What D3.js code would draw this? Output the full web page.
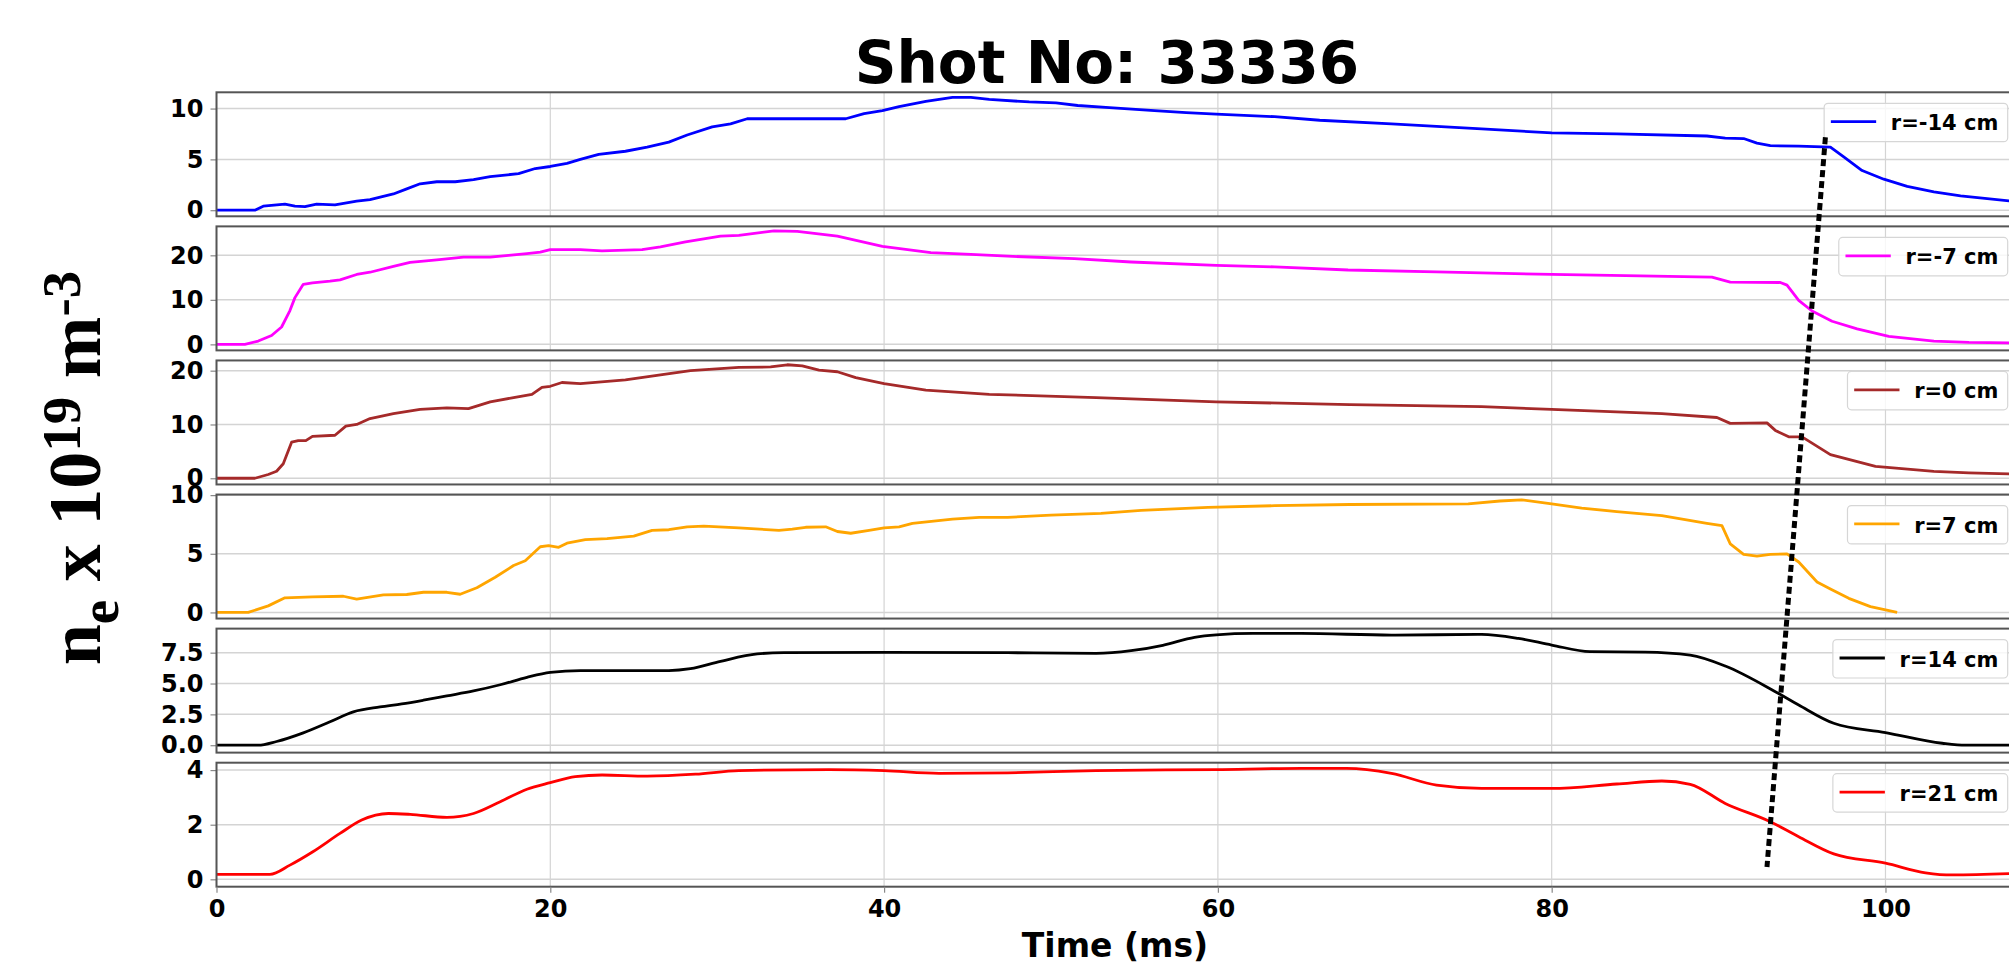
<!DOCTYPE HTML>
<html lang="en">
<head>
<meta charset="utf-8">
<title>Shot No: 33336</title>
<style>
html, body {
    margin: 0;
    padding: 0;
    background: #fff;
 }

svg {
    display: block;
    overflow: hidden;
 }

.tick text {
    font-family: "DejaVu Sans", sans-serif;
    font-weight: bold;
    font-size: 24px;
    fill: #000;
 }

.tick line {
    stroke: #888;
    stroke-width: 1.2;
 }

.grid line {
    stroke: #d4d4d4;
    stroke-width: 1.5;
 }

.frame {
    fill: none;
    stroke: #555;
    stroke-width: 2;
 }

.legend text {
    font-family: "DejaVu Sans", sans-serif;
    font-weight: bold;
    font-size: 21px;
    fill: #000;
 }
</style>
</head>
<body>

<div id="chart"></div>

<script src="https://cdn.jsdelivr.net/npm/d3@7/dist/d3.min.js"></script>
<script>
// ---- data ----
const xTicks = [0, 20, 40, 60, 80, 100];
const xDomain = [0, 108];

const labels = ['r=-14 cm', 'r=-7 cm', 'r=0 cm', 'r=7 cm', 'r=14 cm', 'r=21 cm'];

const yTicks = [
  [0, 5, 10],
  [0, 10, 20],
  [0, 10, 20],
  [0, 5, 10],
  [0, 2.5, 5, 7.5],
  [0, 2, 4]
];
const yDomains = [
  [-0.6, 11.6],
  [-1.35, 26.5],
  [-1.15, 21.9],
  [-0.52, 10.05],
  [-0.6, 9.45],
  [-0.27, 4.27]
];

// r = -14 cm
const tM14 = [0, 2.3, 2.8, 4.1, 4.7, 5.3, 6.0, 7.1, 8.4, 9.2,
  10.6, 11.4, 12.2, 13.2, 14.3, 15.4, 16.4, 18.1, 19.1, 20,
  21, 21.8, 22.9, 24.5, 25.8, 27.1, 28.2, 29.7, 30.8, 31.8,
  34, 37.7, 38.8, 39.9, 40.9, 42.5, 44.1, 45.2, 46.3, 48.7,
  50.3, 51.6, 53.5, 56.2, 58.1, 59.9, 63.4, 66.1, 70.4, 75.8,
  80, 83.9, 89.3, 90.4, 91.5, 92.3, 93.1, 94.8, 96.7, 97.5,
  98.6, 99.9, 101.3, 102.9, 104.5, 107.5, 108];
const nM14 = [0, 0, 0.4, 0.6, 0.4, 0.35, 0.6, 0.52, 0.9, 1.05,
  1.6, 2.1, 2.6, 2.8, 2.8, 3.0, 3.3, 3.6, 4.1, 4.3,
  4.6, 5.0, 5.5, 5.8, 6.2, 6.7, 7.4, 8.2, 8.5, 9.0,
  9.0, 9.0, 9.5, 9.8, 10.2, 10.7, 11.1, 11.1, 10.9, 10.65,
  10.55, 10.3, 10.1, 9.8, 9.6, 9.45, 9.2, 8.85, 8.5, 8.0,
  7.6, 7.5, 7.3, 7.1, 7.05, 6.6, 6.35, 6.3, 6.2, 5.25,
  3.9, 3.05, 2.35, 1.8, 1.4, 0.9, 0.85];

// r = -7 cm
const tM7 = [0, 1.7, 2.5, 3.3, 3.9, 4.4, 4.7, 5.2, 5.75, 6.8,
  7.4, 8.4, 9.2, 10.6, 11.6, 13.2, 14.8, 16.4, 17.5, 18.6,
  19.4, 20, 21.8, 23.1, 25.5, 26.6, 28.1, 30.2, 31.3, 33.4,
  34.8, 37.2, 39.9, 42.8, 45.2, 47.4, 51.4, 54.8, 59.9, 63.4,
  67.8, 73.1, 80, 85.3, 89.6, 90.7, 93.7, 94.1, 94.8, 95.6,
  96.8, 98.3, 100.2, 102.9, 105, 108];
const nM7 = [0, 0, 0.75, 2.0, 3.9, 7.6, 10.5, 13.5, 13.8, 14.2,
  14.5, 15.7, 16.2, 17.5, 18.4, 19.0, 19.6, 19.6, 20.0, 20.4,
  20.7, 21.3, 21.3, 21.0, 21.3, 21.9, 23.0, 24.3, 24.5, 25.5,
  25.4, 24.3, 22.0, 20.6, 20.2, 19.8, 19.25, 18.5, 17.75, 17.4,
  16.7, 16.3, 15.7, 15.4, 15.1, 14.0, 13.9, 13.3, 9.9, 7.5,
  5.2, 3.5, 1.8, 0.75, 0.45, 0.3];

// r = 0 cm
const t0 = [0, 2.3, 3.1, 3.6, 4.0, 4.5, 4.9, 5.35, 5.75, 7.1,
  7.75, 8.4, 9.2, 10.6, 12.2, 13.8, 15.1, 16.4, 17.8, 18.9,
  19.5, 20, 20.7, 21.8, 24.5, 26.6, 28.4, 31.3, 33.2, 34.2,
  35.1, 36.1, 37.2, 38.3, 40, 42.5, 46.3, 52.7, 59.9, 67.9,
  75.8, 80, 86.6, 89.9, 90.7, 92.9, 93.4, 94.2, 95.0, 96.7,
  99.4, 102.9, 105, 108];
const n0 = [0, 0, 0.7, 1.3, 2.7, 6.7, 7.0, 7.0, 7.8, 8.0,
  9.7, 10.0, 11.1, 12.0, 12.8, 13.1, 12.95, 14.2, 15.0, 15.6,
  16.9, 17.1, 17.8, 17.6, 18.3, 19.2, 20.0, 20.6, 20.7, 21.1,
  20.9, 20.1, 19.8, 18.7, 17.6, 16.4, 15.6, 15.0, 14.2, 13.7,
  13.3, 12.8, 12.0, 11.3, 10.2, 10.3, 8.9, 7.7, 7.7, 4.4,
  2.2, 1.3, 1.0, 0.75];

// r = 7 cm
const tP7 = [0, 1.9, 3.1, 4.1, 5.75, 7.6, 8.4, 10.0, 11.4, 12.4,
  13.8, 14.6, 15.6, 16.7, 17.8, 18.5, 19.4, 19.9, 20.5, 21,
  22.1, 23.4, 25.0, 26.1, 27.1, 28.2, 29.2, 31.3, 33.7, 34.5,
  35.3, 36.5, 37.2, 38.0, 39.1, 40, 40.9, 41.7, 44.1, 45.7,
  47.4, 50.0, 53.0, 55.4, 59.4, 63.4, 67.9, 75.0, 76.9, 78.2,
  80, 81.8, 83.9, 86.6, 89.3, 90.2, 90.7, 91.5, 92.3, 93.1,
  94.1, 94.8, 95.9, 96.7, 97.8, 99.1, 100.7];
const nP7 = [0, 0, 0.56, 1.25, 1.33, 1.38, 1.13, 1.5, 1.53, 1.72,
  1.72, 1.55, 2.1, 3.0, 4.0, 4.4, 5.6, 5.7, 5.55, 5.9,
  6.2, 6.3, 6.5, 7.0, 7.05, 7.3, 7.35, 7.2, 7.0, 7.1,
  7.26, 7.3, 6.9, 6.75, 7.0, 7.2, 7.3, 7.6, 7.95, 8.1,
  8.1, 8.3, 8.45, 8.7, 8.95, 9.1, 9.2, 9.25, 9.5, 9.6,
  9.25, 8.9, 8.6, 8.25, 7.6, 7.4, 5.85, 4.95, 4.8, 4.95,
  5.0, 4.3, 2.6, 2.0, 1.2, 0.5, 0.0];

// r = 14 cm
const tP14 = [0, 2.5, 3.6, 5.2, 6.8, 8.2, 9.8, 11.1, 12.4, 13.8,
  15.4, 17.0, 18.6, 20, 21.8, 24.5, 27.1, 28.4, 30.2, 32.4,
  34.0, 40, 47.4, 52.7, 54.8, 56.7, 58.6, 59.9, 62.1, 65,
  70.4, 75.8, 78.0, 80, 82.3, 85.6, 88.3, 90.4, 93.4, 94.8,
  96.9, 100, 103.4, 104.8, 108];
const nP14 = [0, 0, 0.3, 1.0, 1.9, 2.7, 3.1, 3.35, 3.65, 4.0,
  4.4, 4.9, 5.5, 5.9, 6.05, 6.05, 6.05, 6.2, 6.8, 7.4,
  7.5, 7.53, 7.5, 7.45, 7.66, 8.1, 8.75, 8.95, 9.06, 9.06,
  8.93, 8.98, 8.66, 8.12, 7.58, 7.55, 7.3, 6.42, 4.34, 3.26,
  1.78, 1.03, 0.16, 0.0, 0.0];

// r = 21 cm
const tP21 = [0, 3.2, 4.4, 5.75, 7.4, 8.7, 10.3, 11.6, 13.8, 15.4,
  17.0, 18.6, 20, 21.5, 23.1, 25.8, 28.7, 31.3, 36.7, 40,
  43.3, 47.4, 52.7, 59.9, 65, 67.7, 70.4, 73.1, 75.8, 80,
  83.9, 86.6, 88.3, 90.4, 93.1, 94.8, 96.9, 100, 102.4, 104,
  108];
const nP21 = [0.18, 0.18, 0.52, 1.0, 1.68, 2.17, 2.41, 2.38, 2.27, 2.41,
  2.84, 3.3, 3.54, 3.76, 3.82, 3.78, 3.85, 3.98, 4.02, 3.98,
  3.88, 3.9, 3.98, 4.02, 4.06, 4.06, 3.88, 3.45, 3.33, 3.33,
  3.49, 3.6, 3.48, 2.78, 2.11, 1.56, 0.93, 0.59, 0.24, 0.16,
  0.22];

// dotted guide: [time, level in top panel] -> [time, level in bottom panel]
const guideTime = [96.4, 92.9];
const guideLevel = [7.18, 0.45];

const times = [tM14, tM7, t0, tP7, tP14, tP21];
const dens = [nM14, nM7, n0, nP7, nP14, nP21];

// ---- styles ----
const colors = ['#0000ff', '#ff00ff', '#a52a2a', '#ffa500', '#000000', '#ff0000'];
const curves = [d3.curveLinear, d3.curveLinear, d3.curveLinear, d3.curveLinear,
  d3.curveMonotoneX, d3.curveMonotoneX];

const width = 2009;
const height = 970;
const plotLeft = 216.5;
const plotRight = 2019;
const firstTop = 92.3;
const panelStep = 134.08;
const panelH = 124;

const svg = d3.select('#chart')
  .append('svg')
  .attr('width', width)
  .attr('height', height);

const x = d3.scaleLinear().domain(xDomain).range([plotLeft, plotRight]);

const ys = [];

labels.forEach(function(label, i) {
  const top = firstTop + i * panelStep;
  const y = d3.scaleLinear().domain(yDomains[i]).range([top + panelH, top]);
  ys.push(y);

  const g = svg.append('g');

  g.append('clipPath')
    .attr('id', 'clip' + i)
    .append('rect')
    .attr('x', plotLeft)
    .attr('y', top)
    .attr('width', plotRight - plotLeft)
    .attr('height', panelH);

  // grid
  const grid = g.append('g').attr('class', 'grid').attr('clip-path', 'url(#clip' + i + ')');
  grid.selectAll('line.h')
    .data(yTicks[i])
    .enter()
    .append('line')
    .attr('class', 'h')
    .attr('x1', plotLeft)
    .attr('x2', plotRight)
    .attr('y1', d => y(d))
    .attr('y2', d => y(d));
  grid.selectAll('line.v')
    .data(xTicks)
    .enter()
    .append('line')
    .attr('class', 'v')
    .attr('x1', d => x(d))
    .attr('x2', d => x(d))
    .attr('y1', top)
    .attr('y2', top + panelH)
    .style('stroke-width', 1.2);

  // y axis
  const fmt = i === 4 ? d3.format('.1f') : d3.format('d');
  const yAxis = g.append('g')
    .attr('transform', 'translate(' + plotLeft + ',0)')
    .call(d3.axisLeft(y).tickValues(yTicks[i]).tickSize(6).tickPadding(7).tickFormat(fmt));
  yAxis.select('.domain').remove();

  // series
  const pts = times[i].map((t, k) => [t, dens[i][k]]);
  const line = d3.line()
    .x(d => x(d[0]))
    .y(d => y(d[1]))
    .curve(curves[i]);

  g.append('path')
    .datum(pts)
    .attr('clip-path', 'url(#clip' + i + ')')
    .attr('fill', 'none')
    .attr('stroke', colors[i])
    .attr('stroke-width', 2.8)
    .attr('stroke-linejoin', 'round')
    .attr('d', line);

  // frame
  g.append('rect')
    .attr('class', 'frame')
    .attr('x', plotLeft)
    .attr('y', top)
    .attr('width', plotRight - plotLeft)
    .attr('height', panelH);

  // legend
  const lg = g.append('g').attr('class', 'legend');
  const box = lg.append('rect')
    .attr('rx', 4)
    .attr('fill', '#fff')
    .attr('fill-opacity', 0.8)
    .attr('stroke', '#d6d6d6')
    .attr('stroke-width', 1.2);
  const txt = lg.append('text')
    .attr('y', top + 30.5 + 7.5)
    .text(label);
  const tw = txt.node().getComputedTextLength();
  const boxRight = 2007.7;
  const boxW = tw + 76;
  const boxLeft = boxRight - boxW;
  box.attr('x', boxLeft)
    .attr('y', top + 11)
    .attr('width', boxW)
    .attr('height', 38.4);
  txt.attr('x', boxLeft + 66.7);
  lg.append('line')
    .attr('x1', boxLeft + 6.7)
    .attr('x2', boxLeft + 52)
    .attr('y1', top + 29.4)
    .attr('y2', top + 29.4)
    .attr('stroke', colors[i])
    .attr('stroke-width', 2.8);

  // x axis on the last panel
  if (i === labels.length - 1) {
    const xAxis = g.append('g')
      .attr('transform', 'translate(0,' + (top + panelH) + ')')
      .call(d3.axisBottom(x).tickValues(xTicks).tickSize(6).tickPadding(7).tickFormat(d3.format('d')));
    xAxis.select('.domain').remove();
  }
});

// dotted guide across panels
svg.append('line')
  .attr('x1', x(guideTime[0]))
  .attr('y1', ys[0](guideLevel[0]))
  .attr('x2', x(guideTime[1]))
  .attr('y2', ys[ys.length - 1](guideLevel[1]))
  .attr('stroke', '#000')
  .attr('stroke-width', 5)
  .attr('stroke-dasharray', '7 4');

// title
svg.append('text')
  .attr('x', 1107)
  .attr('y', 83)
  .attr('text-anchor', 'middle')
  .style('font-family', '"DejaVu Sans", sans-serif')
  .style('font-weight', 'bold')
  .style('font-size', '58px')
  .text('Shot No: 33336');

// x label
svg.append('text')
  .attr('x', 1115)
  .attr('y', 957)
  .attr('text-anchor', 'middle')
  .style('font-family', '"DejaVu Sans", sans-serif')
  .style('font-weight', 'bold')
  .style('font-size', '33px')
  .text('Time (ms)');

// y label  n_e x 10^19 m^-3
const yl = svg.append('text')
  .attr('transform', 'translate(100,468) rotate(-90)')
  .attr('text-anchor', 'middle')
  .style('font-family', '"Liberation Serif", "Times New Roman", serif')
  .style('font-weight', 'bold')
  .style('font-size', '74px');
yl.append('tspan').text('n');
yl.append('tspan').attr('dy', 18).style('font-size', '55px').text('e');
yl.append('tspan').attr('dy', -18).text(' x 10');
yl.append('tspan').attr('dy', -20).style('font-size', '55px').text('19');
yl.append('tspan').attr('dy', 20).text(' m');
yl.append('tspan').attr('dy', -20).style('font-size', '55px').text('-3');
</script>

</body>
</html>
